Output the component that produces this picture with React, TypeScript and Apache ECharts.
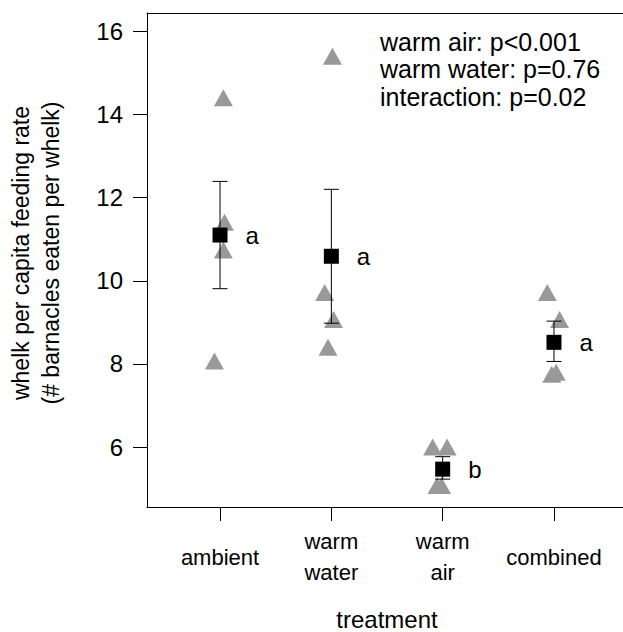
import React, { useEffect, useRef } from "react";
import * as echarts from "echarts";

const categories = ["ambient", "warm\nwater", "warm\nair", "combined"];
const categoryPositions = [1, 2, 3, 4];
const yTicks = [6, 8, 10, 12, 14, 16];
const means = [11.1, 10.59, 5.47, 8.52];
const seUpper = [12.39, 12.2, 5.77, 9.03];
const seLower = [9.81, 8.98, 5.23, 8.06];
const letters = ["a", "a", "b", "a"];
const rawX = [1.03, 1.04, 1.03, 0.95, 2.01, 1.94, 2.02, 1.97, 2.91, 3.04, 2.95, 2.99, 3.94, 4.05, 3.98, 4.02];
const rawY = [14.4, 11.41, 10.74, 8.07, 15.4, 9.72, 9.07, 8.4, 6.0, 6.0, 5.08, 5.08, 9.72, 9.07, 7.75, 7.8];
const stats = ["warm air: p<0.001", "warm water: p=0.76", "interaction: p=0.02"];
const yTitle = ["whelk per capita feeding rate", "(# barnacles eaten per whelk)"];
const xTitle = "treatment";

const FONT = '"Liberation Sans", Arial, Helvetica, sans-serif';

export default function App() {
  const ref = useRef<HTMLDivElement>(null);
  useEffect(() => {
    if (!ref.current) return;
    const chart = echarts.init(ref.current, null, { renderer: "svg" });
    const axisLineStyle = { color: "#000", width: 1 };
    const option: any = {
      animation: false,
      backgroundColor: "#fff",
      grid: { left: 147, top: 13, right: 0, bottom: 125 },
      xAxis: [
        {
          type: "value",
          min: 0.344,
          max: 4.62,
          axisLine: { show: true, onZero: false, lineStyle: axisLineStyle },
          splitLine: { show: false },
          axisTick: { show: true, length: 14, customValues: categoryPositions, lineStyle: axisLineStyle },
          axisLabel: {
            customValues: categoryPositions,
            formatter: (v: number) => categories[Math.round(v) - 1] ?? "",
            fontSize: 22,
            fontFamily: FONT,
            color: "#000",
            verticalAlign: "middle",
            lineHeight: 31,
            margin: 50,
          },
        },
        {
          type: "value",
          position: "top",
          min: 0.344,
          max: 4.62,
          axisLine: { show: true, onZero: false, lineStyle: axisLineStyle },
          splitLine: { show: false },
          axisTick: { show: false },
          axisLabel: { show: false },
        },
      ],
      yAxis: {
        type: "value",
        min: 4.56,
        max: 16.44,
        axisLine: { show: true, onZero: false, lineStyle: axisLineStyle },
        splitLine: { show: false },
        axisTick: { show: true, length: 14, customValues: yTicks, lineStyle: axisLineStyle },
        axisLabel: { customValues: yTicks, fontSize: 24, fontFamily: FONT, color: "#000", margin: 24 },
      },
      series: [
        {
          type: "scatter",
          symbol: "triangle",
          symbolSize: [19, 17],
          itemStyle: { color: "#999999", opacity: 1 },
          data: rawX.map((x, i) => [x, rawY[i]]),
          z: 2,
        },
        {
          type: "custom",
          z: 3,
          encode: { x: 0, y: [1, 2] },
          data: categoryPositions.map((x, i) => [x, seLower[i], seUpper[i]]),
          renderItem: (params: any, api: any) => {
            const x = api.value(0);
            const lo = api.coord([x, api.value(1)]);
            const hi = api.coord([x, api.value(2)]);
            const w = 7.5;
            const st = { stroke: "#000", lineWidth: 1 };
            return {
              type: "group",
              children: [
                { type: "line", shape: { x1: lo[0], y1: lo[1], x2: hi[0], y2: hi[1] }, style: st },
                { type: "line", shape: { x1: hi[0] - w, y1: hi[1], x2: hi[0] + w, y2: hi[1] }, style: st },
                { type: "line", shape: { x1: lo[0] - w, y1: lo[1], x2: lo[0] + w, y2: lo[1] }, style: st },
              ],
            };
          },
        },
        {
          type: "scatter",
          symbol: "rect",
          symbolSize: 15,
          z: 4,
          itemStyle: { color: "#000", opacity: 1 },
          data: categoryPositions.map((x, i) => [x, means[i]]),
          label: {
            show: true,
            position: "right",
            distance: 18,
            formatter: (p: any) => letters[p.dataIndex],
            fontSize: 24,
            fontFamily: FONT,
            color: "#000",
            opacity: 1,
          },
        },
      ],
      graphic: [
        {
          type: "text",
          x: 380,
          y: 28,
          style: {
            text: stats.join("\n"),
            font: `25px ${FONT}`,
            fill: "#000",
            lineHeight: 27.5,
            textAlign: "left",
            textVerticalAlign: "top",
          },
        },
        {
          type: "text",
          x: 36,
          y: 253,
          rotation: Math.PI / 2,
          style: {
            text: yTitle.join("\n"),
            font: `23px ${FONT}`,
            fill: "#000",
            lineHeight: 30,
            textAlign: "center",
            textVerticalAlign: "middle",
          },
        },
        {
          type: "text",
          x: 387,
          y: 619,
          style: {
            text: xTitle,
            font: `24px ${FONT}`,
            fill: "#000",
            textAlign: "center",
            textVerticalAlign: "middle",
          },
        },
      ],
    };
    chart.setOption(option);
    return () => chart.dispose();
  }, []);
  return <div ref={ref} style={{ position: "absolute", left: 0, top: 0, width: 623, height: 632 }} />;
}
